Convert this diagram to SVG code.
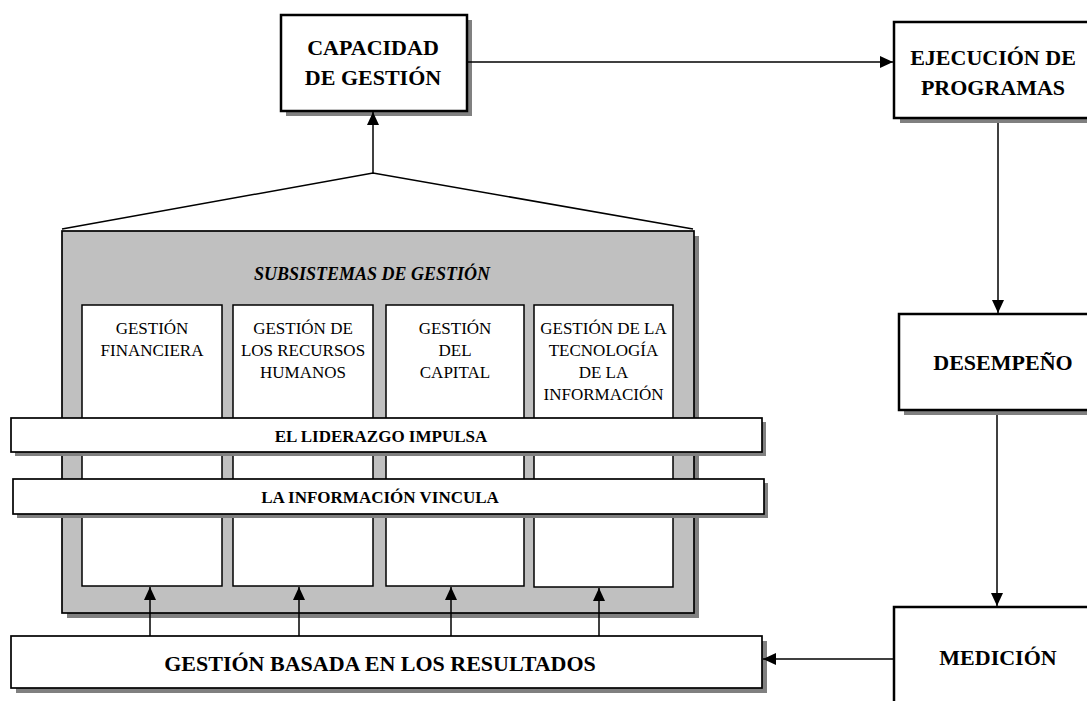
<svg xmlns="http://www.w3.org/2000/svg" width="1087" height="701" viewBox="0 0 1087 701">
<style>
.box{fill:#fff;stroke:#000;stroke-width:2.5}
.sh{fill:#808080}
.col{fill:#fff;stroke:#000;stroke-width:1.5}
.bar{fill:#fff;stroke:#000;stroke-width:1.7}
.t{font-family:"Liberation Serif","DejaVu Serif",serif;fill:#000;text-anchor:middle}
.b22{font-size:22px;font-weight:bold}
.b17{font-size:17px;font-weight:bold}
.r17{font-size:17px}
.ln{fill:none;stroke:#000;stroke-width:1.5}
</style>
<defs>
<marker id="ah" markerUnits="userSpaceOnUse" markerWidth="13" markerHeight="12" refX="13" refY="6" orient="auto">
<path d="M0,0 L13,6 L0,12 z" fill="#000"/>
</marker>
</defs>
<rect width="1087" height="701" fill="#fff"/>

<g id="capacidad">
<rect class="sh" x="286" y="20" width="186" height="96"/>
<rect class="box" x="281" y="15" width="186" height="96"/>
<text class="t b22" x="373" y="55">CAPACIDAD</text>
<text class="t b22" x="373" y="85">DE GESTIÓN</text>
</g>

<g id="ejecucion">
<rect class="sh" x="900" y="27" width="200" height="96"/>
<rect class="box" x="894" y="22" width="200" height="96"/>
<text class="t b22" x="993" y="65">EJECUCIÓN DE</text>
<text class="t b22" x="993" y="95">PROGRAMAS</text>
</g>

<g id="desempeno">
<rect class="sh" x="904" y="319" width="200" height="96"/>
<rect class="box" x="899" y="314" width="200" height="96"/>
<text class="t b22" x="1003" y="370">DESEMPEÑO</text>
</g>

<g id="medicion">
<rect class="box" x="894" y="607" width="200" height="110"/>
<text class="t b22" x="998" y="665">MEDICIÓN</text>
</g>

<g id="subsistemas">
<rect class="sh" x="67" y="236" width="632" height="382"/>
<rect x="62" y="231" width="632" height="382" fill="#c0c0c0" stroke="#000" stroke-width="1.7"/>
<text class="t" x="372" y="280" font-size="18" font-weight="bold" font-style="italic">SUBSISTEMAS DE GESTIÓN</text>
</g>

<g id="gestion-financiera">
<rect class="col" x="82" y="305" width="140" height="281"/>
<text class="t r17" x="152" y="334">GESTIÓN</text>
<text class="t r17" x="152" y="356">FINANCIERA</text>
</g>
<g id="gestion-rrhh">
<rect class="col" x="233" y="305" width="140" height="281"/>
<text class="t r17" x="303" y="334">GESTIÓN DE</text>
<text class="t r17" x="303" y="356">LOS RECURSOS</text>
<text class="t r17" x="303" y="378">HUMANOS</text>
</g>
<g id="gestion-capital">
<rect class="col" x="386" y="305" width="138" height="281"/>
<text class="t r17" x="455" y="334">GESTIÓN</text>
<text class="t r17" x="455" y="356">DEL</text>
<text class="t r17" x="455" y="378">CAPITAL</text>
</g>
<g id="gestion-ti">
<rect class="col" x="534" y="305" width="139" height="282"/>
<text class="t r17" x="603.5" y="334">GESTIÓN DE LA</text>
<text class="t r17" x="603.5" y="356">TECNOLOGÍA</text>
<text class="t r17" x="603.5" y="378">DE LA</text>
<text class="t r17" x="603.5" y="400">INFORMACIÓN</text>
</g>

<g id="liderazgo">
<rect class="sh" x="15" y="422" width="751" height="34"/>
<rect class="bar" x="11" y="418" width="751" height="34"/>
<text class="t b17" x="381" y="442">EL LIDERAZGO IMPULSA</text>
</g>

<g id="informacion">
<rect class="sh" x="17" y="483" width="751" height="35"/>
<rect class="bar" x="13" y="479" width="751" height="35"/>
<text class="t b17" x="380" y="503">LA INFORMACIÓN VINCULA</text>
</g>

<g id="gestion-resultados">
<rect class="sh" x="16" y="641" width="751" height="52"/>
<rect class="bar" x="11" y="636" width="751" height="52"/>
<text class="t b22" x="380" y="671">GESTIÓN BASADA EN LOS RESULTADOS</text>
</g>

<g id="connectors">
<polyline class="ln" points="62,229 373,173 693,229"/>
<line class="ln" x1="373" y1="173" x2="373" y2="112" marker-end="url(#ah)"/>
<line class="ln" x1="468" y1="62" x2="893" y2="62" marker-end="url(#ah)"/>
<line class="ln" x1="998" y1="123" x2="998" y2="313" marker-end="url(#ah)"/>
<line class="ln" x1="997" y1="415" x2="997" y2="606" marker-end="url(#ah)"/>
<line class="ln" x1="894" y1="659" x2="763" y2="659" marker-end="url(#ah)"/>
<line class="ln" x1="150" y1="636" x2="150" y2="587" marker-end="url(#ah)"/>
<line class="ln" x1="299" y1="636" x2="299" y2="587" marker-end="url(#ah)"/>
<line class="ln" x1="451" y1="636" x2="451" y2="587" marker-end="url(#ah)"/>
<line class="ln" x1="599" y1="636" x2="599" y2="588" marker-end="url(#ah)"/>
</g>
</svg>
